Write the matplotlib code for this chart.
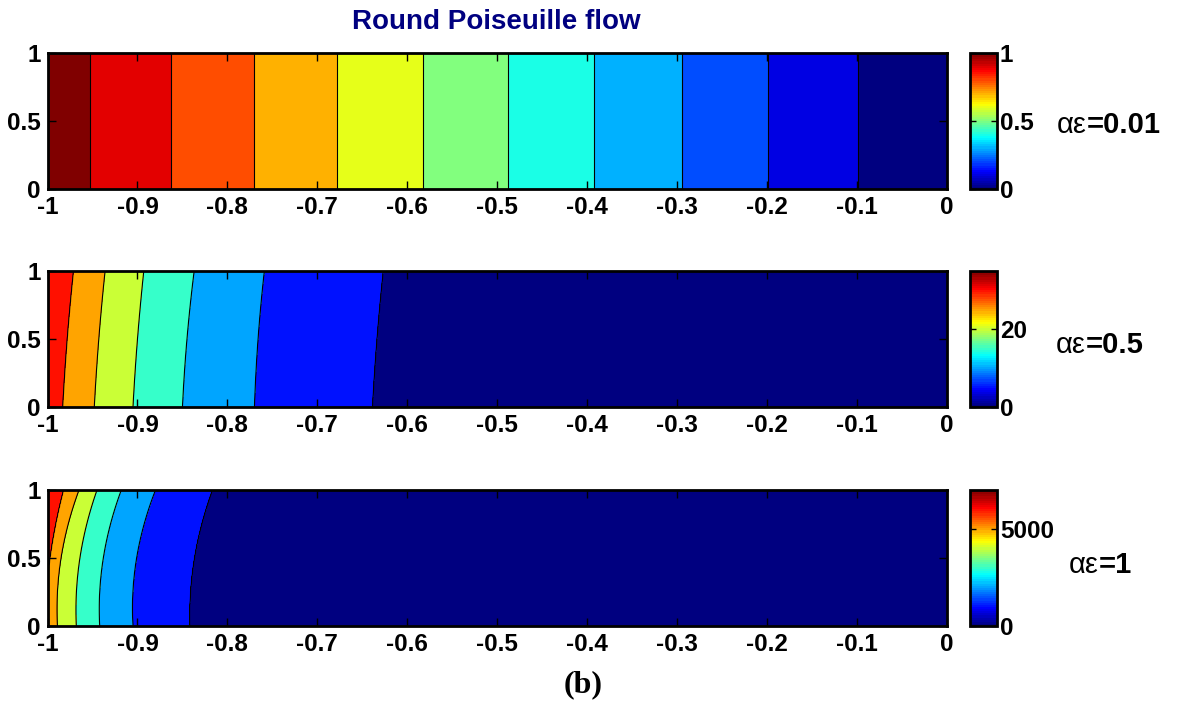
import numpy as np
import matplotlib.pyplot as plt
from matplotlib.cm import ScalarMappable
from matplotlib.colors import Normalize, LinearSegmentedColormap

plt.rcParams['font.family'] = ['Liberation Sans', 'DejaVu Sans']

# right-hand labels and colour bar settings of the three panels
eps_labels = ["0.01", "0.5", "1"]
cbar_max = [1.0, 35, 7000]
cbar_ticks = [[0, 0.5, 1], [0, 20], [0, 5000]]
cbar_ticklabels = [["0", "0.5", "1"], ["0", "20"], ["0", "5000"]]

xtick_vals = [-1, -0.9, -0.8, -0.7, -0.6, -0.5, -0.4, -0.3, -0.2, -0.1, 0]
xtick_labels = ["-1", "-0.9", "-0.8", "-0.7", "-0.6", "-0.5", "-0.4", "-0.3", "-0.2", "-0.1", "0"]
ytick_vals = [0, 0.5, 1]
ytick_labels = ["0", "0.5", "1"]

# contour levels (highest first) and the x where each one crosses y=0, y=0.5, y=1
levels_1 = [1.0, 0.9, 0.8, 0.7, 0.6, 0.5, 0.4, 0.3, 0.2, 0.1]
bottom_1 = [-0.953, -0.863, -0.770, -0.678, -0.583, -0.488, -0.392, -0.295, -0.199, -0.099]
mid_1 = [-0.953, -0.863, -0.770, -0.678, -0.583, -0.488, -0.392, -0.295, -0.199, -0.099]
top_1 = [-0.953, -0.863, -0.770, -0.678, -0.583, -0.488, -0.392, -0.295, -0.199, -0.099]

levels_2 = [30, 25, 20, 15, 10, 5]
bottom_2 = [-0.983, -0.948, -0.905, -0.850, -0.770, -0.639]
mid_2 = [-0.978, -0.943, -0.900, -0.845, -0.766, -0.634]
top_2 = [-0.971, -0.936, -0.893, -0.837, -0.759, -0.627]

levels_3 = [6000, 5000, 4000, 3000, 2000, 1000]
bottom_3 = [-1.003, -0.989, -0.968, -0.942, -0.905, -0.842]
mid_3 = [-0.997, -0.985, -0.964, -0.938, -0.901, -0.837]
top_3 = [-0.982, -0.965, -0.945, -0.918, -0.880, -0.817]

panels = [(levels_1, bottom_1, mid_1, top_1),
          (levels_2, bottom_2, mid_2, top_2),
          (levels_3, bottom_3, mid_3, top_3)]

x = np.linspace(-1, 0, 900)
y = np.linspace(0, 1, 200)


def build_field(levels, bottom, mid, top):
    # rebuild a field whose contours pass through the read crossing points
    step = levels[0] - levels[1]
    coefs = [np.polyfit([0, 0.5, 1], [b, m, t], 2) for b, m, t in zip(bottom, mid, top)]
    z = np.zeros((len(y), len(x)))
    for i, yy in enumerate(y):
        xp = [-1.05] + [np.polyval(c, yy) for c in coefs] + [0]
        fp = [levels[0] + step] + list(levels) + [0]
        z[i] = np.interp(x, xp, fp)
    return z, step


# MATLAB style jet
jet_dict = {
    'red': [(0, 0, 0), (3 / 8, 0, 0), (5 / 8, 1, 1), (7 / 8, 1, 1), (1, 0.5, 0.5)],
    'green': [(0, 0, 0), (1 / 8, 0, 0), (3 / 8, 1, 1), (5 / 8, 1, 1), (7 / 8, 0, 0), (1, 0, 0)],
    'blue': [(0, 0.5, 0.5), (1 / 8, 1, 1), (3 / 8, 1, 1), (5 / 8, 0, 0), (1, 0, 0)],
}
cmap = LinearSegmentedColormap('mjet', jet_dict, N=256)
cmap64 = LinearSegmentedColormap('mjet64', jet_dict, N=64)

fig = plt.figure(figsize=(11.77, 7.02), dpi=100)

ax_left, ax_w = 47.5 / 1177, 899.5 / 1177
cb_left, cb_w = 970 / 1177, 27 / 1177
ax_h = 136 / 702
ax_bottoms = [1 - 189 / 702, 1 - 407 / 702, 1 - 626 / 702]
label_pos = [(1057, 125), (1056, 345), (1069, 565)]

for k, (levels, bottom, mid, top) in enumerate(panels):
    z, step = build_field(levels, bottom, mid, top)
    bounds = [0] + levels[::-1] + [levels[0] + step]
    colors = [cmap(b / cbar_max[k]) for b in bounds[:-1]]

    ax = fig.add_axes([ax_left, ax_bottoms[k], ax_w, ax_h])
    ax.contourf(x, y, z, levels=bounds, colors=colors)
    ax.contour(x, y, z, levels=levels[::-1], colors='k', linewidths=0.8)
    ax.set_xlim(-1, 0)
    ax.set_ylim(0, 1)
    ax.set_xticks(xtick_vals)
    ax.set_xticklabels(xtick_labels, fontweight='bold')
    ax.set_yticks(ytick_vals)
    ax.set_yticklabels(ytick_labels, fontweight='bold')
    ax.tick_params(direction='in', top=True, right=True, length=6, width=1,
                   labelsize=17.5, pad=5)
    for s in ax.spines.values():
        s.set_linewidth(2)

    cax = fig.add_axes([cb_left, ax_bottoms[k], cb_w, ax_h])
    sm = ScalarMappable(norm=Normalize(0, cbar_max[k]), cmap=cmap64)
    cb = fig.colorbar(sm, cax=cax)
    cb.set_ticks(cbar_ticks[k])
    cb.set_ticklabels(cbar_ticklabels[k], fontweight='bold')
    cb.ax.tick_params(direction='in', left=True, right=True, length=4, width=1,
                      labelsize=17.5, pad=2)
    cb.outline.set_linewidth(2)

    lx, ly = label_pos[k]
    t1 = fig.text(lx / 1177, 1 - ly / 702, "αε", fontsize=21, va='center', ha='left')
    ax.annotate("=" + eps_labels[k], xy=(1, 0.5), xycoords=t1, va='center', ha='left',
                fontsize=21, fontweight='bold')

fig.text(496 / 1177, 1 - 22 / 702, "Round Poiseuille flow", color='#000080',
         fontsize=20, fontweight='bold', ha='center', va='center')
fig.text(583 / 1177, 1 - 685 / 702, "(b)", family='Liberation Serif',
         fontsize=23, fontweight='bold', ha='center', va='center')

fig.savefig('out.png', dpi=100)
